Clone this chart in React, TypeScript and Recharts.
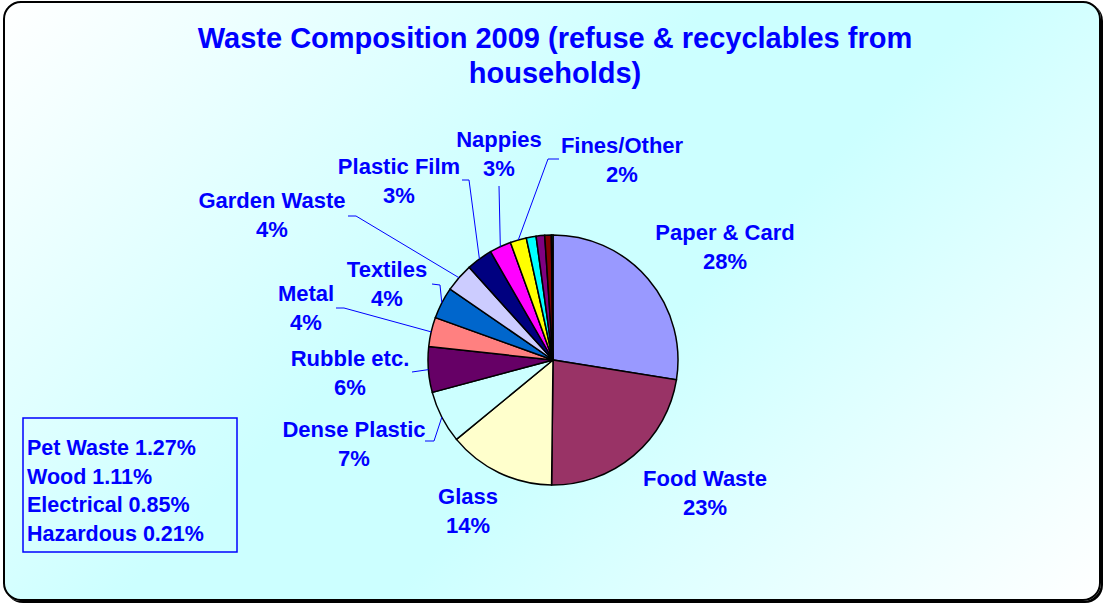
import React from 'react'
import { PieChart, Pie, Cell } from 'recharts'

const names = [
  'Paper & Card', 'Food Waste', 'Glass', 'Dense Plastic', 'Rubble etc.', 'Metal', 'Textiles',
  'Garden Waste', 'Plastic Film', 'Nappies', 'Fines/Other', 'Pet Waste', 'Wood', 'Electrical', 'Hazardous',
]
const values = [27.6, 22.7, 13.9, 6.8, 5.9, 3.8, 4.1, 3.7, 3.4, 2.8, 2.1, 1.27, 1.11, 0.85, 0.21]
const colors = [
  '#9999FF', '#993366', '#FFFFCC', '#CCFFFF', '#660066', '#FF8080', '#0066CC',
  '#CCCCFF', '#000080', '#FF00FF', '#FFFF00', '#00FFFF', '#800080', '#800000', '#008080',
]
const boxLines = ['Pet Waste 1.27%', 'Wood 1.11%', 'Electrical 0.85%', 'Hazardous 0.21%']

const data = names.map((name, i) => ({ name, value: values[i] }))

const FONT = '"Liberation Sans", Arial, sans-serif'
const BLUE = '#0000FF'
const RAD = Math.PI / 180

// label placement (text centre x, first baseline y) and leader elbows
const labelLayout: { [k: string]: { x: number; y: number; line?: number[][] } } = {
  'Paper & Card': { x: 725, y: 240 },
  'Food Waste': { x: 705, y: 486 },
  Glass: { x: 468, y: 504 },
  'Dense Plastic': { x: 354, y: 437, line: [[425, 441], [434, 441]] },
  'Rubble etc.': { x: 350, y: 366, line: [[412, 372]] },
  Metal: { x: 306, y: 301, line: [[336, 308], [344, 308]] },
  Textiles: { x: 387, y: 277, line: [[432, 284], [440, 285]] },
  'Garden Waste': { x: 272, y: 208, line: [[348, 216], [356, 216]] },
  'Plastic Film': { x: 399, y: 174, line: [[462, 180], [469, 180]] },
  Nappies: { x: 499, y: 147, line: [[499, 186]] },
  'Fines/Other': { x: 622, y: 153, line: [[559, 159], [548, 159]] },
}

const renderLabel = (props: any) => {
  const { cx, cy, midAngle, outerRadius, index } = props
  const name = names[index]
  const pos = labelLayout[name]
  if (!pos) return null
  const ex = cx + outerRadius * Math.cos(-midAngle * RAD)
  const ey = cy + outerRadius * Math.sin(-midAngle * RAD)
  const pts = pos.line ? [...pos.line, [ex, ey]] : null
  return (
    <g>
      {pts && (
        <polyline points={pts.map((p) => p.join(',')).join(' ')} fill="none" stroke={BLUE} strokeWidth={1} />
      )}
      <text x={pos.x} y={pos.y} textAnchor="middle" fontFamily={FONT} fontWeight="bold" fontSize={22} fill={BLUE}>
        {name}
      </text>
      <text x={pos.x} y={pos.y + 29} textAnchor="middle" fontFamily={FONT} fontWeight="bold" fontSize={22} fill={BLUE}>
        {Math.round(values[index])}%
      </text>
    </g>
  )
}

export default function App() {
  return (
    <div style={{ position: 'absolute', left: 0, top: 0, width: 1106, height: 607 }}>
      <div
        style={{
          position: 'absolute', left: 3, top: 1, width: 1098, height: 600, boxSizing: 'border-box',
          border: '2px solid #000', borderRadius: 18, boxShadow: '2px 2px 0 #000',
          background: 'linear-gradient(135deg, #FFFFFF 0%, #CCFFFF 42%, #CCFFFF 58%, #FFFFFF 100%)',
        }}
      />
      <svg width={1106} height={607} style={{ position: 'absolute', left: 0, top: 0 }}>
        <text x={555} y={48} textAnchor="middle" fontFamily={FONT} fontWeight="bold" fontSize={29} fill={BLUE}>
          Waste Composition 2009 (refuse &amp; recyclables from
        </text>
        <text x={555} y={83} textAnchor="middle" fontFamily={FONT} fontWeight="bold" fontSize={29} fill={BLUE}>
          households)
        </text>
        <rect x={23} y={418} width={214} height={134} fill="none" stroke={BLUE} strokeWidth={1.5} />
        {boxLines.map((t, i) => (
          <text key={t} x={27} y={455 + i * 28.7} fontFamily={FONT} fontWeight="bold" fontSize={21.5} fill={BLUE}>
            {t}
          </text>
        ))}
      </svg>
      <div style={{ position: 'absolute', left: 0, top: 0 }}>
        <PieChart width={1106} height={607} margin={{ top: 0, right: 0, bottom: 0, left: 0 }}>
          <Pie
            data={data}
            dataKey="value"
            nameKey="name"
            cx={553}
            cy={360}
            outerRadius={125}
            startAngle={90}
            endAngle={-270}
            stroke="#000"
            strokeWidth={1.5}
            label={renderLabel}
            labelLine={false}
            isAnimationActive={false}
          >
            {data.map((d, i) => (
              <Cell key={d.name} fill={colors[i]} />
            ))}
          </Pie>
        </PieChart>
      </div>
    </div>
  )
}
